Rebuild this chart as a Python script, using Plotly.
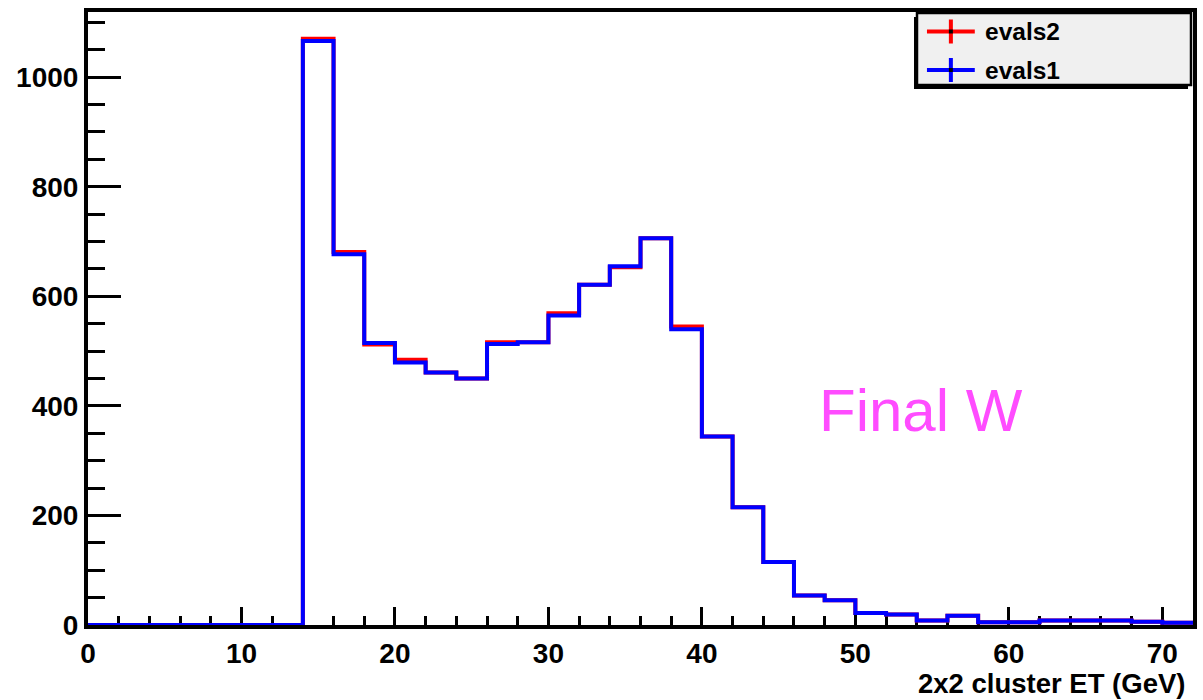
import numpy as np
import plotly.graph_objects as go

# 2 GeV bins from 0 to 72 GeV
bin_width = 2
x_min, x_max = 0, 72

# counts per bin, evals2 (red) and evals1 (blue)
evals2 = [0, 0, 0, 0, 0, 0, 0, 1070, 681, 512, 484, 461, 450, 516, 516, 569,
          621, 653, 706, 545, 344, 215, 115, 54, 45, 22, 19, 8, 17, 5,
          5, 8, 8, 8, 6, 4]
evals1 = [0, 0, 0, 0, 0, 0, 0, 1066, 677, 515, 479, 461, 450, 513, 516, 565,
          621, 655, 706, 540, 344, 215, 115, 54, 45, 22, 19, 8, 17, 5,
          5, 8, 8, 8, 6, 4]

series = [("evals2", evals2, "#ff0000"), ("evals1", evals1, "#0000ff")]

edges = np.arange(x_min, x_max + bin_width, bin_width)

fig = go.Figure()
for name, vals, color in series:
    v = np.asarray(vals, dtype=float)
    fig.add_trace(go.Scatter(
        x=edges,
        y=np.append(v, v[-1]),
        mode="lines",
        line=dict(color=color, width=4, shape="hv"),
        name=name,
        showlegend=False,
        hoverinfo="skip",
    ))

# canvas geometry (pixels)
W, H = 1203, 700
L, R, T, B = 88, 6, 12, 75
pw, ph = W - L - R, H - T - B


def px(x):
    return (x - L) / pw


def py(y):
    return (H - B - y) / ph


bold = dict(family="Liberation Sans", color="black", weight="bold")

shapes = []
annotations = []

# legend box with drop shadow
bx0, bx1, by0, by1 = 920, 1195, 13, 85
shapes.append(dict(type="rect", xref="paper", yref="paper",
                   x0=px(bx0 - 3), x1=px(bx1 - 3), y0=py(by1 + 4), y1=py(by0 + 4),
                   fillcolor="black", line=dict(width=0), layer="above"))
shapes.append(dict(type="rect", xref="paper", yref="paper",
                   x0=px(bx0), x1=px(bx1), y0=py(by1), y1=py(by0),
                   fillcolor="#f0f0f0", line=dict(color="black", width=2.5),
                   layer="above"))

rows = [31.5, 70]
for (name, _, color), ry in zip(series, rows):
    # horizontal line
    shapes.append(dict(type="line", xref="paper", yref="paper",
                       x0=px(930), x1=px(978), y0=py(ry), y1=py(ry),
                       line=dict(color=color, width=4), layer="above"))
    # error bar
    shapes.append(dict(type="line", xref="paper", yref="paper",
                       x0=px(954), x1=px(954), y0=py(ry - 12), y1=py(ry + 12),
                       line=dict(color=color, width=4), layer="above"))
    # marker
    shapes.append(dict(type="rect", xref="paper", yref="paper",
                       x0=px(952), x1=px(956), y0=py(ry + 2), y1=py(ry - 2),
                       fillcolor="black", line=dict(width=0), layer="above"))
    annotations.append(dict(xref="paper", yref="paper", x=px(986), y=py(ry),
                            xanchor="left", yanchor="middle", text=name,
                            showarrow=False, font=dict(size=24.5, **bold)))

# axis title
annotations.append(dict(xref="paper", yref="paper", x=1.0, y=0.0,
                        xanchor="right", yanchor="middle", yshift=-58,
                        xshift=-6,
                        text="2x2 cluster ET (GeV)", showarrow=False,
                        font=dict(size=27.5, **bold)))

# label
annotations.append(dict(xref="x", yref="y", x=54.3, y=392,
                        xanchor="center", yanchor="middle", text="Final W",
                        showarrow=False,
                        font=dict(family="Liberation Sans", size=60,
                                  color="#ff4cff")))

fig.update_layout(
    width=W, height=H,
    margin=dict(l=L, r=R, t=T, b=B, pad=0),
    paper_bgcolor="white",
    plot_bgcolor="white",
    showlegend=False,
    shapes=shapes,
    annotations=annotations,
)

fig.update_xaxes(
    range=[x_min, x_max],
    showgrid=False, zeroline=False,
    showline=True, mirror=True, linecolor="black", linewidth=4,
    ticks="inside", ticklen=18, tickwidth=3, tickcolor="black",
    tick0=0, dtick=10,
    minor=dict(ticks="inside", ticklen=9, tickwidth=3, tickcolor="black",
               dtick=2, showgrid=False),
    tickfont=dict(size=28, **bold),
    layer="below traces",
)
fig.update_yaxes(
    range=[0, 1119],
    showgrid=False, zeroline=False,
    showline=True, mirror=True, linecolor="black", linewidth=4,
    ticks="inside", ticklen=33, tickwidth=3, tickcolor="black",
    tick0=0, dtick=200,
    minor=dict(ticks="inside", ticklen=17, tickwidth=3, tickcolor="black",
               dtick=50, showgrid=False),
    tickfont=dict(size=28, **bold),
    layer="below traces",
)

fig.write_html("out.html")
